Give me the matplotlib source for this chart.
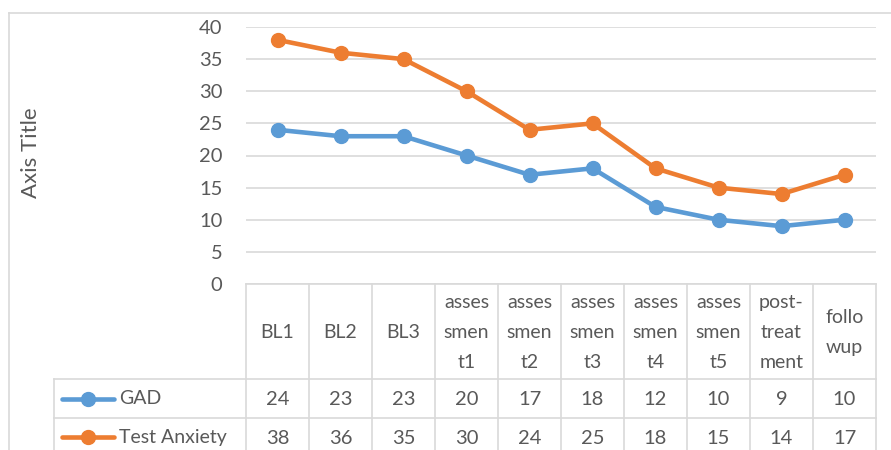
import matplotlib.pyplot as plt

# data
categories = ['BL1', 'BL2', 'BL3', 'assessment1', 'assessment2', 'assessment3',
              'assessment4', 'assessment5', 'post-treatment', 'followup']
header_labels = ['BL1', 'BL2', 'BL3', 'asses\nsmen\nt1', 'asses\nsmen\nt2',
                 'asses\nsmen\nt3', 'asses\nsmen\nt4', 'asses\nsmen\nt5',
                 'post-\ntreat\nment', 'follo\nwup']
gad = [24, 23, 23, 20, 17, 18, 12, 10, 9, 10]
test_anxiety = [38, 36, 35, 30, 24, 25, 18, 15, 14, 17]
series_names = ['GAD', 'Test Anxiety']
colors = ['#5B9BD5', '#ED7D31']

plt.rcParams['font.family'] = ['Lato', 'DejaVu Sans']
text_col = '#595959'
grid_col = '#D9D9D9'

W, H = 891, 450
fig = plt.figure(figsize=(W / 100, H / 100), dpi=100)

# pixel-coordinate overlay for the frame and the data table
ov = fig.add_axes([0, 0, 1, 1])
ov.set_xlim(0, W)
ov.set_ylim(H, 0)
ov.axis('off')

# chart area border (top and left visible)
ov.plot([9, W], [13, 13], color=grid_col, lw=1.2)
ov.plot([9, 9], [13, H], color=grid_col, lw=1.2)

# plot area
px0, px1, py_top, py_bot = 246, 876, 27, 284
ax = fig.add_axes([px0 / W, 1 - py_bot / H, (px1 - px0) / W, (py_bot - py_top) / H])
x = list(range(len(categories)))
for vals, c in zip([gad, test_anxiety], colors):
    ax.plot(x, vals, color=c, lw=3.3, marker='o', markersize=10, solid_capstyle='round')
ax.set_xlim(-0.5, len(categories) - 0.5)
ax.set_ylim(0, 40)
ax.set_yticks(range(0, 41, 5))
ax.set_xticks([])
ax.yaxis.grid(True, color=grid_col, lw=1.2)
ax.set_axisbelow(True)
for s in ax.spines.values():
    s.set_visible(False)
ax.tick_params(axis='y', length=0, pad=17, labelsize=14.5, labelcolor=text_col)
ax.patch.set_alpha(0)

fig.text(31 / W, 1 - 153 / H, 'Axis Title', rotation=90, ha='center', va='center',
         fontsize=16, color=text_col)

# data table
col_w = (px1 - px0) / len(categories)
row_y = [py_bot, 379, 418, 457]
leg_x = 54
ov.plot([px0, px1], [py_bot, py_bot], color=grid_col, lw=1.2)
for yy in row_y[1:3]:
    ov.plot([leg_x, px1], [yy, yy], color=grid_col, lw=1.2)
ov.plot([leg_x, leg_x], [row_y[1], H], color=grid_col, lw=1.2)
for i in range(len(categories) + 1):
    ov.plot([px0 + i * col_w] * 2, [py_bot, H], color=grid_col, lw=1.2)

for i, lab in enumerate(header_labels):
    ov.text(px0 + (i + 0.5) * col_w, (row_y[0] + row_y[1]) / 2 + 1, lab,
            ha='center', va='center', fontsize=14, color=text_col, linespacing=1.9)

for r, (name, vals, c) in enumerate(zip(series_names, [gad, test_anxiety], colors)):
    yc = (row_y[r + 1] + row_y[r + 2]) / 2 if r == 0 else 437
    ov.plot([62, 114], [yc, yc], color=c, lw=3.3, solid_capstyle='round')
    ov.plot([88], [yc], marker='o', color=c, markersize=10)
    ov.text(119, yc, name, ha='left', va='center', fontsize=14, color=text_col)
    for i, v in enumerate(vals):
        ov.text(px0 + (i + 0.5) * col_w, yc + 1, str(v), ha='center', va='center',
                fontsize=14.5, color=text_col)

fig.savefig('out.png', dpi=100)
